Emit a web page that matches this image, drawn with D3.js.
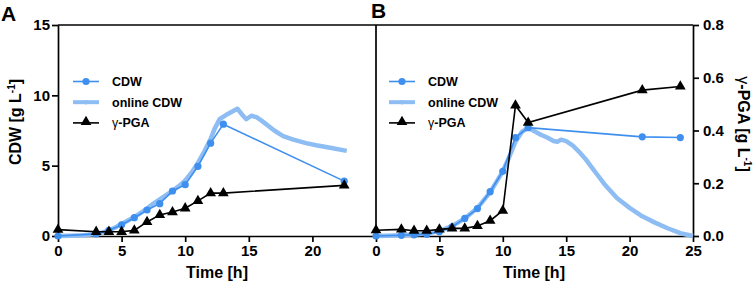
<html><head><title>CDW and γ-PGA</title>
<style>
    body {
        margin: 0;
        background-color: #ffffff;
        font-family: 'Liberation Sans', Arial, sans-serif;
    }
    text {
        font-weight: bold;
        fill: #000;
    }
    .axis path, .axis line {
        stroke: #000;
        stroke-width: 1.7px;
    }
    .axis text {
        font-size: 15px;
        font-weight: bold;
        font-family: 'Liberation Sans', Arial, sans-serif;
    }
</style>
<script src="https://cdnjs.cloudflare.com/ajax/libs/d3/7.8.5/d3.min.js"></script>
</head>
<body>
<div id="chart"></div>
<script>
// Panel A - offline samples
const timeA = [0, 3, 4, 5, 6, 7, 8, 9, 10, 11, 12, 13, 22.5];
const cdwA = [0, 0.15, 0.4, 0.8, 1.3, 1.85, 2.3, 3.2, 3.65, 4.95, 6.6, 7.95, 3.9];
const pgaA = [0.45, 0.3, 0.3, 0.3, 0.4, 1.0, 1.5, 1.7, 1.97, 2.5, 3.05, 3.05, 3.6];

// Panel A - online CDW trace
const onlineTimeA = [0, 1, 2, 3, 3.5, 4, 4.5, 5, 5.5, 6, 6.5, 7, 7.5, 8, 8.5, 9, 9.5, 10, 10.5, 11, 11.5, 12, 12.3, 12.7, 13.2, 13.6, 14.1, 14.5, 14.8, 15.2, 15.6, 16, 17, 17.7, 18.5, 19.5, 20.3, 21.5, 22.7];
const onlineCdwA = [0, 0.02, 0.05, 0.15, 0.25, 0.4, 0.6, 0.85, 1.1, 1.35, 1.65, 1.95, 2.3, 2.6, 2.9, 3.2, 3.55, 3.95, 4.5, 5.2, 6.0, 6.9, 7.6, 8.3, 8.6, 8.8, 9.05, 8.6, 8.3, 8.55, 8.45, 8.2, 7.5, 7.1, 6.85, 6.6, 6.45, 6.25, 6.05];

// Panel B - offline samples
const timeB = [0, 2, 3, 4, 5, 6, 7, 8, 9, 10, 11, 12, 21, 24];
const cdwB = [0, 0.05, 0.08, 0.12, 0.3, 0.65, 1.25, 1.95, 3.15, 4.6, 7.0, 7.7, 7.05, 7.0];
const pgaB = [0.022, 0.025, 0.02, 0.02, 0.025, 0.029, 0.029, 0.038, 0.058, 0.096, 0.495, 0.43, 0.553, 0.567];

// Panel B - online CDW trace
const onlineTimeB = [0, 1, 2, 3, 4, 5, 6, 7, 8, 9, 10, 10.5, 11, 11.5, 12, 12.5, 13, 13.5, 14, 14.3, 14.6, 15, 15.5, 16, 16.5, 17, 17.5, 18, 18.5, 19, 20, 21, 22, 23, 24, 25];
const onlineCdwB = [0, 0.02, 0.05, 0.1, 0.18, 0.35, 0.7, 1.25, 2.0, 3.1, 4.6, 5.6, 6.7, 7.4, 7.7, 7.45, 7.2, 7.0, 6.75, 6.7, 6.85, 6.75, 6.45, 6.0, 5.5, 4.9, 4.3, 3.7, 3.2, 2.7, 2.0, 1.4, 0.95, 0.55, 0.2, 0];

// Tick labels
const xTicksA = [0, 5, 10, 15, 20];
const xTicksB = [0, 5, 10, 15, 20, 25];
const yTicksCdw = [0, 5, 10, 15];
const yTicksPga = [0, 0.2, 0.4, 0.6, 0.8];
const legendLabels = ["CDW", "online CDW", "γ-PGA"];

const cdwColor = "#3f8fef";
const onlineColor = "#8dbdf3";

const width = 754, height = 287;
const plotTop = 25, plotBottom = 236;

const svg = d3.select("#chart").append("svg")
    .attr("width", width)
    .attr("height", height);

const yCdw = d3.scaleLinear().domain([0, 15]).range([plotBottom, plotTop]);
const yPga = d3.scaleLinear().domain([0, 0.8]).range([plotBottom, plotTop]);

const xA = d3.scaleLinear().domain([0, 25]).range([58, 376]);
const xB = d3.scaleLinear().domain([0, 25]).range([376, 693]);

function zip(ts, vs) {
    return ts.map((t, i) => [t, vs[i]]);
}

// top frame line
svg.append("line")
    .attr("x1", 58).attr("x2", 693)
    .attr("y1", plotTop).attr("y2", plotTop)
    .attr("stroke", "#000").attr("stroke-width", 1.7);

// axes
svg.append("g").attr("class", "axis")
    .attr("transform", `translate(0,${plotBottom})`)
    .call(d3.axisBottom(xA).tickValues(xTicksA).tickSize(6).tickPadding(3).tickSizeOuter(0));

svg.append("g").attr("class", "axis")
    .attr("transform", `translate(0,${plotBottom})`)
    .call(d3.axisBottom(xB).tickValues(xTicksB).tickSize(6).tickPadding(3).tickSizeOuter(0));

svg.append("g").attr("class", "axis")
    .attr("transform", `translate(58,0)`)
    .call(d3.axisLeft(yCdw).tickValues(yTicksCdw).tickSize(6).tickPadding(2).tickSizeOuter(0));

// panel B left axis: plain line, no ticks
svg.append("line")
    .attr("x1", 376).attr("x2", 376)
    .attr("y1", plotTop).attr("y2", plotBottom)
    .attr("stroke", "#000").attr("stroke-width", 1.7);

svg.append("g").attr("class", "axis")
    .attr("transform", `translate(693,0)`)
    .call(d3.axisRight(yPga).tickValues(yTicksPga).tickSize(6).tickPadding(4).tickSizeOuter(0)
        .tickFormat(d3.format(".1f")));

// axis titles
svg.append("text")
    .attr("x", 217).attr("y", 278)
    .attr("text-anchor", "middle").attr("font-size", 16)
    .text("Time [h]");
svg.append("text")
    .attr("x", 534).attr("y", 278)
    .attr("text-anchor", "middle").attr("font-size", 16)
    .text("Time [h]");

const yLabL = svg.append("text")
    .attr("transform", "translate(21,122) rotate(-90)")
    .attr("text-anchor", "middle").attr("font-size", 16);
yLabL.append("tspan").text("CDW [g L");
yLabL.append("tspan").attr("dy", -6).attr("font-size", 10).text("-1");
yLabL.append("tspan").attr("dy", 6).text("]");

const yLabR = svg.append("text")
    .attr("transform", "translate(738,124) rotate(90)")
    .attr("text-anchor", "middle").attr("font-size", 16);
yLabR.append("tspan").attr("font-weight", "normal").text("γ");
yLabR.append("tspan").text("-PGA [g L");
yLabR.append("tspan").attr("dy", -6).attr("font-size", 10).text("-1");
yLabR.append("tspan").attr("dy", 6).text("]");

// panel letters
svg.append("text").attr("x", 1).attr("y", 21).attr("font-size", 21).text("A");
svg.append("text").attr("x", 371).attr("y", 18).attr("font-size", 21).text("B");

const triangle = d3.symbol().type(d3.symbolTriangle).size(50);

function drawPanel(x, yPgaScale, onT, onV, t, cdw, pga) {
    const g = svg.append("g");
    const line = d3.line().x(d => x(d[0]));

    g.append("path")
        .datum(zip(onT, onV))
        .attr("fill", "none")
        .attr("stroke", onlineColor)
        .attr("stroke-width", 4.5)
        .attr("stroke-linejoin", "round")
        .attr("d", line.y(d => yCdw(d[1])));

    g.append("path")
        .datum(zip(t, cdw))
        .attr("fill", "none")
        .attr("stroke", cdwColor)
        .attr("stroke-width", 1.6)
        .attr("d", line.y(d => yCdw(d[1])));

    g.selectAll(".dot")
        .data(zip(t, cdw))
        .enter().append("circle")
        .attr("cx", d => x(d[0]))
        .attr("cy", d => yCdw(d[1]))
        .attr("r", 3.6)
        .attr("fill", cdwColor);

    g.append("path")
        .datum(zip(t, pga))
        .attr("fill", "none")
        .attr("stroke", "#000")
        .attr("stroke-width", 1.6)
        .attr("d", line.y(d => yPgaScale(d[1])));

    g.selectAll(".tri")
        .data(zip(t, pga))
        .enter().append("path")
        .attr("d", triangle)
        .attr("transform", d => `translate(${x(d[0])},${yPgaScale(d[1])})`)
        .attr("fill", "#000");
}

drawPanel(xA, yCdw, onlineTimeA, onlineCdwA, timeA, cdwA, pgaA);
drawPanel(xB, yPga, onlineTimeB, onlineCdwB, timeB, cdwB, pgaB);

// legends
function drawLegend(x0, y0) {
    const g = svg.append("g").attr("transform", `translate(${x0},${y0})`);
    const rowH = 20.7;
    legendLabels.forEach((lab, i) => {
        const y = i * rowH;
        if (i === 0) {
            g.append("line").attr("x1", 0).attr("x2", 26).attr("y1", y).attr("y2", y)
                .attr("stroke", cdwColor).attr("stroke-width", 1.6);
            g.append("circle").attr("cx", 13).attr("cy", y).attr("r", 3.6).attr("fill", cdwColor);
        } else if (i === 1) {
            g.append("line").attr("x1", 0).attr("x2", 26).attr("y1", y).attr("y2", y)
                .attr("stroke", onlineColor).attr("stroke-width", 4);
            g.append("circle").attr("cx", 13).attr("cy", y).attr("r", 2.2).attr("fill", onlineColor);
        } else {
            g.append("line").attr("x1", 0).attr("x2", 26).attr("y1", y).attr("y2", y)
                .attr("stroke", "#000").attr("stroke-width", 1.6);
            g.append("path").attr("d", triangle).attr("transform", `translate(13,${y - 1})`).attr("fill", "#000");
        }
        const txt = g.append("text").attr("x", 39).attr("y", y + 4.5).attr("font-size", 12.5);
        if (lab === "γ-PGA") {
            txt.append("tspan").attr("font-weight", "normal").text("γ");
            txt.append("tspan").text("-PGA");
        } else {
            txt.text(lab);
        }
    });
}

drawLegend(73, 81.5);
drawLegend(389, 81.5);
</script>
</body>
</html>
